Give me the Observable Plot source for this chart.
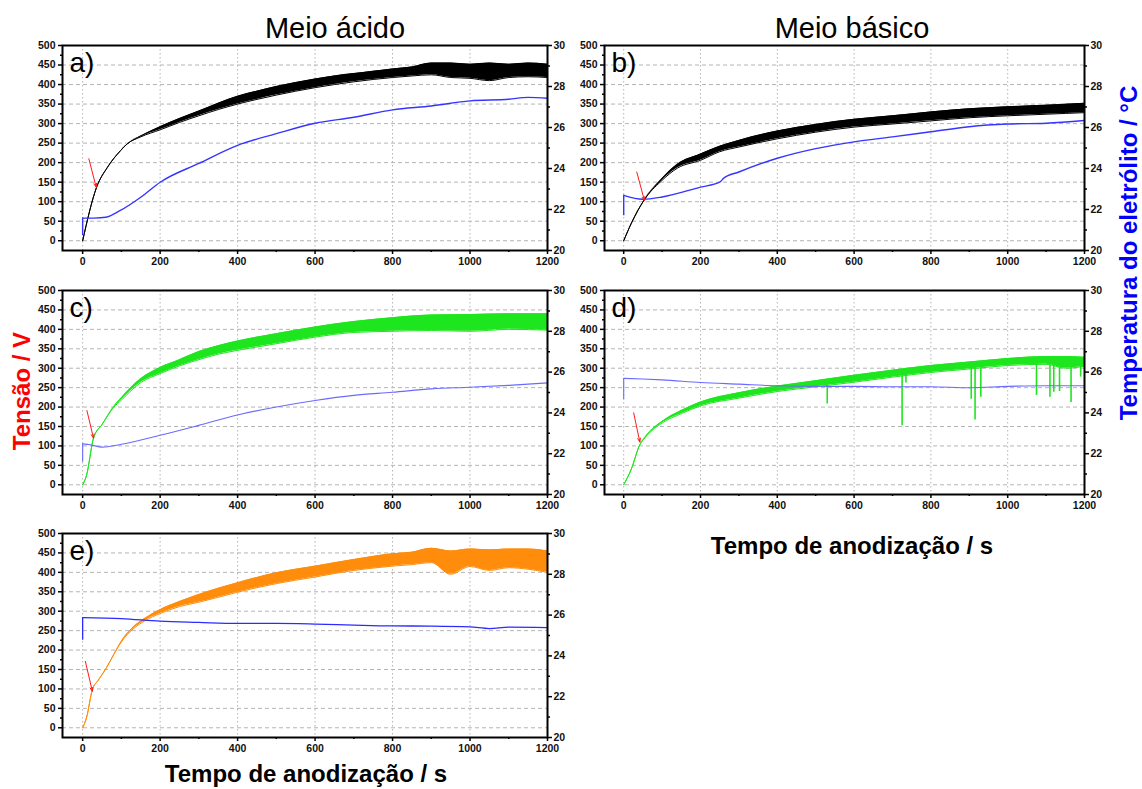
<!DOCTYPE html>
<html><head><meta charset="utf-8">
<script src="https://cdn.jsdelivr.net/npm/d3@7"></script>
<script src="https://cdn.jsdelivr.net/npm/@observablehq/plot@0.6"></script>
<style>
body{margin:0;background:#fff;}
#wrap{position:relative;width:1142px;height:789px;overflow:hidden;background:#fff;font-family:"Liberation Sans",Arial,sans-serif;}
#wrap svg.p{position:absolute;}
</style></head><body><div id="wrap"></div>
<script>
// ---- ticks ----
const xTicks = [0, 200, 400, 600, 800, 1000, 1200];
const xMinor = [100, 300, 500, 700, 900, 1100];
const vTicks = [0, 50, 100, 150, 200, 250, 300, 350, 400, 450, 500];
const vMinor = [25, 75, 125, 175, 225, 275, 325, 375, 425, 475];
const tempTicks = [20, 22, 24, 26, 28, 30];
const tempMinor = [21, 23, 25, 27, 29];
const colTitles = ["Meio ácido", "Meio básico"];
const xTitle = "Tempo de anodização / s";
const yTitleLeft = "Tensão / V";
const yTitleRight = "Temperatura do eletrólito / °C";

// ---- panel a (acid, black) ----
const aT  = [0, 36, 64, 98, 115, 150, 200, 250, 300, 350, 400, 450, 500, 550, 600, 650, 700, 750, 800, 850, 900, 950, 1000, 1050, 1100, 1150, 1200];
const aLo = [0, 137, 188, 231, 248, 266, 284, 303, 320, 336, 350, 362, 373, 383, 392, 400, 407, 413, 418, 422, 425, 418, 416, 410, 418, 420, 418];
const aHi = [0, 137, 188, 231, 248, 268, 292, 313, 332, 352, 370, 383, 395, 405, 414, 422, 428, 434, 440, 445, 455, 455, 452, 455, 452, 455, 452];
const aTempT = [0, 0, 30, 60, 96, 150, 200, 300, 400, 500, 600, 700, 800, 900, 1000, 1100, 1150, 1200];
const aTemp  = [20.72, 21.58, 21.58, 21.62, 21.94, 22.6, 23.33, 24.25, 25.13, 25.7, 26.21, 26.5, 26.86, 27.05, 27.3, 27.38, 27.47, 27.43];
const aArrow = [16, 210, 35, 137];

// ---- panel b (basic, black) ----
const bT  = [0, 20, 53, 97, 140, 200, 250, 300, 400, 500, 600, 700, 800, 900, 1000, 1100, 1200];
const bLo = [0, 45, 104, 152, 186, 206, 228, 240, 261, 278, 291, 299, 307, 315, 320, 324, 328];
const bHi = [0, 45, 104, 156, 196, 222, 242, 257, 281, 298, 311, 320, 330, 338, 343, 347, 352];
const bTempT = [0, 0, 50, 100, 200, 250, 260, 300, 400, 500, 600, 700, 800, 900, 1000, 1100, 1200];
const bTemp  = [21.70, 22.69, 22.50, 22.61, 23.09, 23.33, 23.52, 23.83, 24.50, 24.97, 25.30, 25.54, 25.79, 26.04, 26.17, 26.21, 26.34];
const bArrow = [34, 176, 54, 103];

// ---- panel c (acid, green) ----
const cT  = [0, 10, 28, 50, 80, 100, 150, 200, 250, 300, 350, 400, 500, 600, 700, 800, 900, 1000, 1100, 1200];
const cLo = [0, 24, 120, 155, 199, 218, 263, 286, 306, 322, 336, 346, 363, 380, 392, 395, 397, 395, 400, 398];
const cHi = [0, 24, 120, 155, 201, 224, 273, 302, 322, 343, 358, 370, 389, 406, 420, 430, 437, 438, 440, 440];
const cTempT = [0, 0, 20, 50, 100, 200, 300, 400, 500, 600, 700, 800, 900, 1000, 1100, 1200];
const cTemp  = [21.58, 22.48, 22.44, 22.32, 22.46, 22.90, 23.39, 23.90, 24.29, 24.61, 24.86, 25.01, 25.18, 25.26, 25.35, 25.47];
const cArrow = [11, 191, 28, 120];

// ---- panel d (basic, green) ----
const dT  = [0, 20, 41, 60, 100, 150, 200, 300, 400, 500, 600, 700, 800, 900, 1000, 1100, 1150, 1200];
const dLo = [0, 41, 101, 126, 159, 183, 203, 223, 240, 252, 264, 277, 289, 298, 307, 310, 300, 305];
const dHi = [0, 41, 101, 128, 163, 191, 213, 237, 254, 268, 282, 295, 307, 316, 325, 330, 330, 328];
const dSpikeT   = [530, 725, 735, 905, 915, 930, 1075, 1110, 1120, 1135, 1165, 1190];
const dSpikeTop = [262, 284, 285, 305, 305, 306, 318, 320, 320, 320, 318, 318];
const dSpikeLow = [208, 152, 262, 220, 167, 225, 230, 225, 238, 240, 212, 277];
const dTempT = [0, 0, 50, 100, 200, 300, 400, 500, 600, 700, 800, 900, 1000, 1100, 1200];
const dTemp  = [24.64, 25.69, 25.66, 25.62, 25.49, 25.41, 25.33, 25.30, 25.30, 25.28, 25.28, 25.23, 25.30, 25.33, 25.33];
const dArrow = [26, 185, 42, 110];

// ---- panel e (orange) ----
const eT  = [0, 10, 25, 40, 60, 80, 100, 130, 160, 200, 250, 300, 400, 500, 600, 700, 800, 850, 900, 950, 1000, 1050, 1100, 1150, 1200];
const eLo = [0, 26, 98, 122, 152, 188, 221, 254, 275, 294, 312, 323, 349, 371, 388, 405, 416, 420, 425, 395, 415, 405, 412, 408, 400];
const eHi = [0, 26, 98, 122, 152, 188, 223, 258, 281, 304, 325, 343, 373, 399, 416, 433, 448, 452, 462, 455, 460, 458, 460, 460, 455];
const eTempT = [0, 0, 100, 200, 300, 400, 500, 600, 700, 800, 900, 1000, 1050, 1100, 1200];
const eTemp  = [24.77, 25.88, 25.83, 25.70, 25.64, 25.59, 25.59, 25.56, 25.51, 25.47, 25.46, 25.42, 25.34, 25.41, 25.39];
const eArrow = [7, 171, 25, 94];

// ---- scales: right axis (20-30 °C) shares the left axis range (-25..500 V) ----
const V0 = -25, V1 = 500, T0 = 20, T1 = 30;
const toV = T => V0 + (T - T0) / (T1 - T0) * (V1 - V0);
const toT = v => T0 + (v - V0) / (V1 - V0) * (T1 - T0);

const wrap = document.getElementById("wrap");
const FONT = '"Liberation Sans", Arial, sans-serif';

function panel(o) {
  const idx = o.t.map((_, i) => i);
  const tIdx = o.tempT.map((_, i) => i).slice(1); // first point is the start of the jump at t=0
  const marks = [
    Plot.gridY(vTicks.filter(v => v < 500), {stroke: "#b4b4b4", strokeOpacity: 1, strokeDasharray: "4,3"}),
    Plot.gridX(xTicks.filter(v => v < 1200), {stroke: "#b4b4b4", strokeOpacity: 1, strokeDasharray: "1.5,2.5"}),
    Plot.areaY(idx, {x: i => o.t[i], y1: i => o.lo[i], y2: i => o.hi[i], fill: o.color, curve: "monotone-x"}),
    Plot.line(idx, {x: i => o.t[i], y: i => o.lo[i], stroke: o.color, strokeWidth: 1, curve: "monotone-x"}),
    Plot.line(idx, {x: i => o.t[i], y: i => o.hi[i], stroke: o.color, strokeWidth: 1, curve: "monotone-x"})
  ];
  if (o.spikeT) {
    marks.push(Plot.ruleX(o.spikeT.map((_, i) => i), {x: i => o.spikeT[i], y1: i => o.spikeLow[i], y2: i => o.spikeTop[i], stroke: o.color, strokeWidth: 1.6}));
  }
  marks.push(
    Plot.ruleX([0], {x: () => o.tempT[0], y1: () => toV(o.temp[0]), y2: () => toV(o.temp[1]), stroke: o.blue, strokeWidth: o.blueW}),
    Plot.line(tIdx, {x: i => o.tempT[i], y: i => toV(o.temp[i]), stroke: o.blue, strokeWidth: o.blueW, curve: "monotone-x"}),
    Plot.arrow([o.arrow], {x1: d => d[0], y1: d => d[1], x2: d => d[2], y2: d => d[3], stroke: "#ff1a1a", strokeWidth: 1, headLength: 6, headAngle: 40}),
    Plot.axisY(vTicks, {anchor: "left", tickSize: 4, tickPadding: 3, strokeWidth: 1.5, label: null, fill: "#111", tickFormat: d => String(d)}),
    Plot.axisY(vMinor, {anchor: "left", tickSize: 2, strokeWidth: 1.5, tickFormat: () => "", label: null}),
    Plot.axisX(xTicks, {anchor: "bottom", tickSize: 4, tickPadding: 3, strokeWidth: 1.5, label: null, fill: "#111", tickFormat: d => String(d)}),
    Plot.axisX(xMinor, {anchor: "bottom", tickSize: 2, strokeWidth: 1.5, tickFormat: () => "", label: null}),
    Plot.axisY(tempTicks.map(toV), {anchor: "right", tickSize: 4, tickPadding: 2, strokeWidth: 1.5, label: null, fill: "#111", tickFormat: v => String(Math.round(toT(v)))}),
    Plot.axisY(tempMinor.map(toV), {anchor: "right", tickSize: 2, strokeWidth: 1.5, tickFormat: () => "", label: null}),
    Plot.frame({stroke: "black", strokeWidth: 2}),
    Plot.text([o.label], {text: d => d, frameAnchor: "top-left", dx: 7, dy: 7, lineAnchor: "top", textAnchor: "start", fontSize: 28, fontWeight: "normal", fill: "black"})
  );
  const svg = Plot.plot({
    width: o.width, height: o.height,
    marginLeft: o.ml, marginRight: o.mr, marginTop: o.mt, marginBottom: o.mb,
    x: {domain: [o.xMin, 1200], label: null},
    y: {domain: [V0, V1], label: null},
    style: {background: "transparent", fontFamily: FONT, fontSize: "10.5px", fontWeight: "bold", overflow: "visible", maxWidth: "none"},
    marks
  });
  svg.classList.add("p");
  svg.style.left = o.left + "px";
  svg.style.top = o.top + "px";
  wrap.appendChild(svg);
}

const col1 = {left: 0, width: 575, ml: 62, mr: 28, xMin: -52};
const col2 = {left: 570, width: 542, ml: 34, mr: 28, xMin: -50};
const row1 = {top: 0, height: 275, mt: 45, mb: 25};
const row2 = {top: 255, height: 264, mt: 35, mb: 25};
const row3 = {top: 500, height: 262, mt: 33, mb: 25};
const BLUE1 = "#3535ff", BLUE2 = "#6a6aff";

panel({...col1, ...row1, t: aT, lo: aLo, hi: aHi, color: "#000000", tempT: aTempT, temp: aTemp, blue: BLUE1, blueW: 1.4, arrow: aArrow, label: "a)"});
panel({...col2, ...row1, t: bT, lo: bLo, hi: bHi, color: "#000000", tempT: bTempT, temp: bTemp, blue: BLUE1, blueW: 1.4, arrow: bArrow, label: "b)"});
panel({...col1, ...row2, t: cT, lo: cLo, hi: cHi, color: "#1ee61e", tempT: cTempT, temp: cTemp, blue: BLUE2, blueW: 1.1, arrow: cArrow, label: "c)"});
panel({...col2, ...row2, t: dT, lo: dLo, hi: dHi, color: "#1ee61e", tempT: dTempT, temp: dTemp, blue: BLUE2, blueW: 1.1, arrow: dArrow, label: "d)",
       spikeT: dSpikeT, spikeTop: dSpikeTop, spikeLow: dSpikeLow});
panel({...col1, ...row3, t: eT, lo: eLo, hi: eHi, color: "#ff8c0a", tempT: eTempT, temp: eTemp, blue: "#2b2bff", blueW: 1.3, arrow: eArrow, label: "e)"});

// ---- overlay texts ----
const ov = d3.select(wrap).append("svg")
  .attr("width", 1142).attr("height", 789)
  .style("position", "absolute").style("left", "0px").style("top", "0px")
  .style("font-family", FONT);
ov.append("text").attr("x", 335).attr("y", 38).attr("text-anchor", "middle").attr("font-size", 29).text(colTitles[0]);
ov.append("text").attr("x", 852).attr("y", 38).attr("text-anchor", "middle").attr("font-size", 29).text(colTitles[1]);
ov.append("text").attr("x", 852).attr("y", 554).attr("text-anchor", "middle").attr("font-size", 24).attr("font-weight", "bold").text(xTitle);
ov.append("text").attr("x", 306).attr("y", 782).attr("text-anchor", "middle").attr("font-size", 24).attr("font-weight", "bold").text(xTitle);
ov.append("text").attr("transform", "translate(30,391) rotate(-90)").attr("text-anchor", "middle").attr("font-size", 24).attr("font-weight", "bold").attr("fill", "#ff0000").text(yTitleLeft);
ov.append("text").attr("transform", "translate(1137,253) rotate(-90)").attr("text-anchor", "middle").attr("font-size", 24).attr("font-weight", "bold").attr("fill", "#0000ff").text(yTitleRight);
</script></body></html>
